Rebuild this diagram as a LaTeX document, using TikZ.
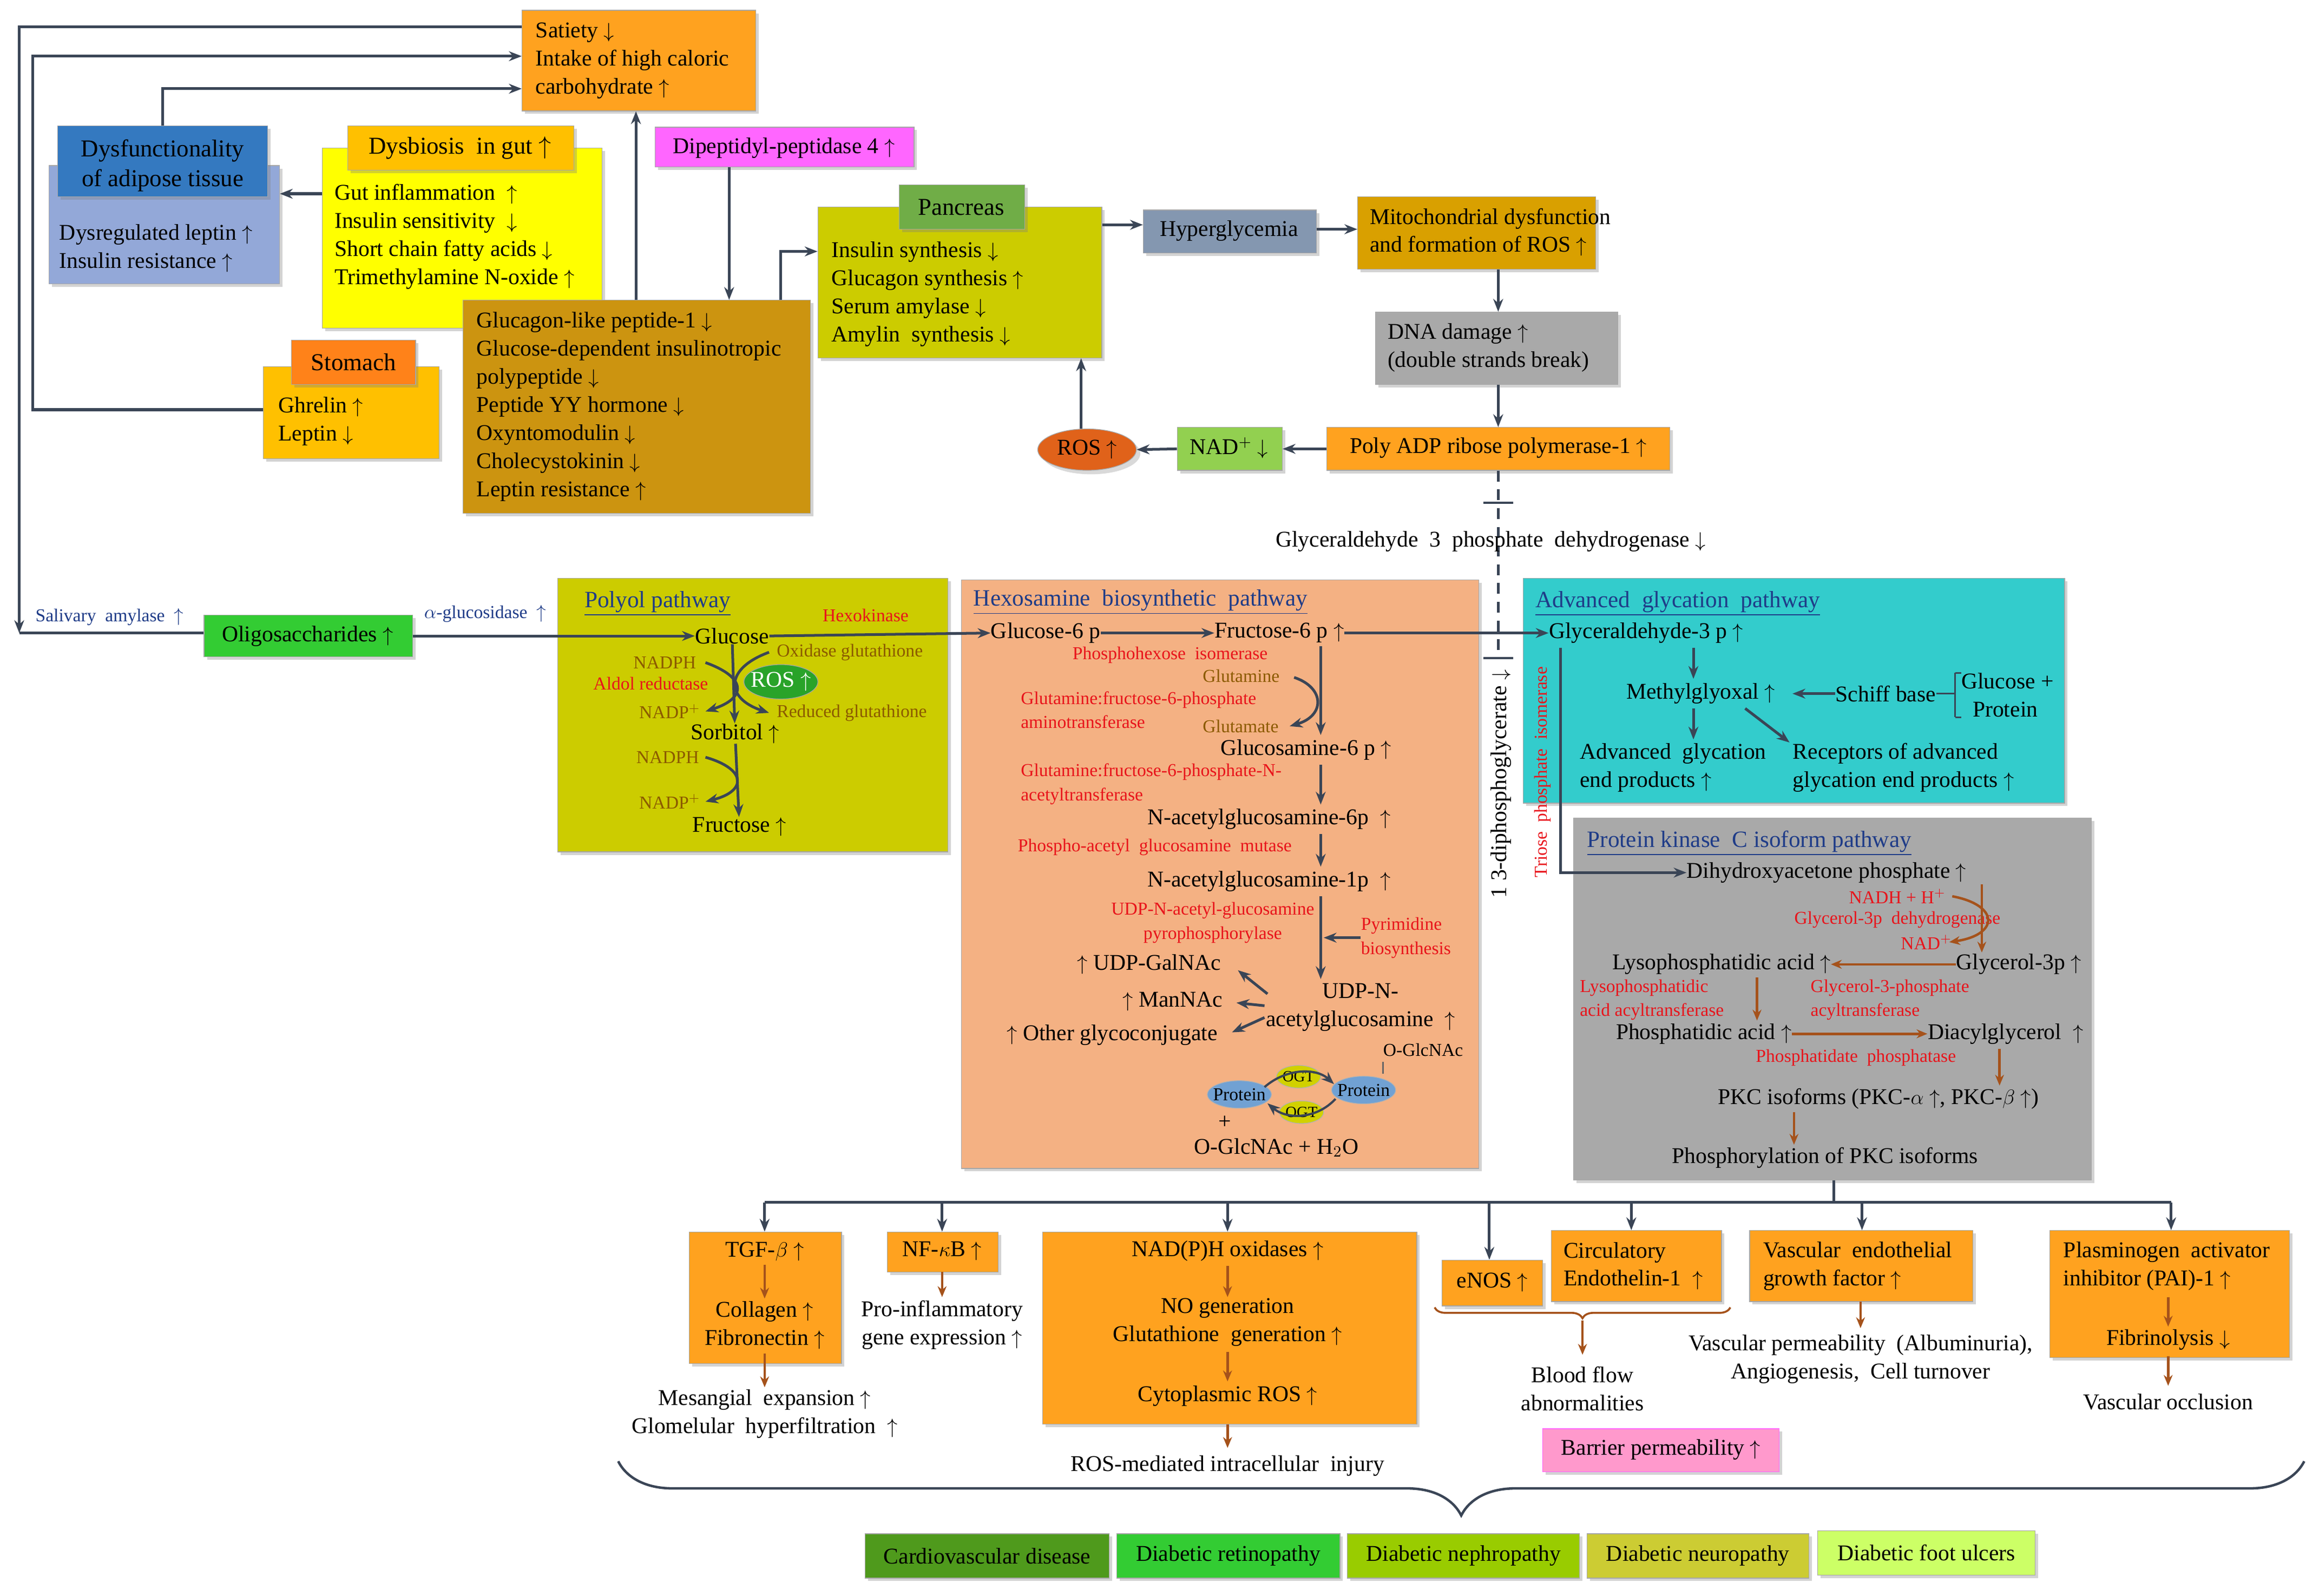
\documentclass[tikz,border=0pt]{standalone}
\usepackage{fontspec}
\setmainfont{Liberation Serif}
\usetikzlibrary{arrows.meta,fit,shapes.geometric,decorations.pathreplacing,shadows}

\definecolor{ln}{HTML}{3A4556}
\definecolor{br}{HTML}{A5521B}
\definecolor{orng}{HTML}{FFA21F}
\definecolor{orngD}{HTML}{D98200}
\definecolor{blueH}{HTML}{3479C0}
\definecolor{blueB}{HTML}{93A8D8}
\definecolor{ylw}{HTML}{FFFF00}
\definecolor{ylwH}{HTML}{FFC000}
\definecolor{gold}{HTML}{CC9410}
\definecolor{mag}{HTML}{FF66FF}
\definecolor{grnH}{HTML}{70AD47}
\definecolor{olive}{HTML}{CCCC00}
\definecolor{hyp}{HTML}{8497B0}
\definecolor{mito}{HTML}{D9A000}
\definecolor{gry}{HTML}{A9A9A9}
\definecolor{nadg}{HTML}{92D050}
\definecolor{rosc}{HTML}{E0621A}
\definecolor{olig}{HTML}{33CC33}
\definecolor{salm}{HTML}{F4B183}
\definecolor{teal}{HTML}{33CCCC}
\definecolor{pnk}{HTML}{FF99CC}
\definecolor{d1}{HTML}{4F9A1C}
\definecolor{d2}{HTML}{33CC33}
\definecolor{d3}{HTML}{99CC00}
\definecolor{d4}{HTML}{CCCC33}
\definecolor{d5}{HTML}{CCFF66}
\definecolor{ttl}{HTML}{1F3C88}
\definecolor{enz}{HTML}{E8141B}
\definecolor{sub}{HTML}{8B5A00}

\newcommand\UA{$\uparrow$}
\newcommand\DA{$\downarrow$}
\newcommand\bx[6]{\node[box,fill=#6,fit={(#2,#3)(#4,#5)}] (#1) {};}

\tikzset{
  box/.style={draw=black!35,inner sep=0pt,drop shadow={opacity=0.35,shadow xshift=0.6mm,shadow yshift=-0.6mm}},
  t/.style={anchor=west,inner sep=0pt,font=\fontsize{13}{16.2}\selectfont,align=left},
  tc/.style={inner sep=0pt,font=\fontsize{13}{16.2}\selectfont,align=center},
  rd/.style={anchor=west,inner sep=0pt,font=\fontsize{10.5}{14}\selectfont,text=enz,align=left},
  bn/.style={anchor=west,inner sep=0pt,font=\fontsize{10.5}{14}\selectfont,text=sub,align=left},
  bl/.style={inner sep=0pt,font=\fontsize{10.5}{14}\selectfont,text=ttl},
  hd/.style={anchor=west,inner sep=0pt,font=\fontsize{13.5}{16}\selectfont,text=ttl},
  ar/.style={draw=ln,line width=0.55mm,-{Stealth[length=2.6mm,width=2mm]}},
  la/.style={draw=ln,line width=0.55mm},
  ba/.style={draw=br,line width=0.5mm,-{Stealth[length=2.2mm,width=1.8mm]}},
}

\begin{document}
\begin{tikzpicture}[x=0.3mm,y=-0.3mm]
\useasboundingbox (0,0) rectangle (1568,1079);

% ---------- top part ----------
\bx{sat}{353}{7}{511}{75}{orng}
\node[t] (satT) at (362,41) {Satiety \DA\\Intake of high caloric\\carbohydrate \UA};

\bx{adB}{33}{112}{189}{192}{blueB}
\bx{adH}{39}{85}{181}{133}{blueH}
\node[tc,font=\fontsize{14}{17}\selectfont] (adHT) at (110,112) {Dysfunctionality\\of adipose tissue};
\node[t] (adT) at (40,168) {Dysregulated leptin \UA\\Insulin resistance \UA};

\bx{dyB}{218}{100}{407}{222}{ylw}
\bx{dyH}{235}{85}{388}{115}{ylwH}
\node[tc,font=\fontsize{14}{17}\selectfont] (dyHT) at (311,100) {Dysbiosis \ in gut \UA};
\node[t] (dyT) at (226,160) {Gut inflammation \ \UA\\Insulin sensitivity \ \DA\\Short chain fatty acids \DA\\Trimethylamine N-oxide \UA};

\bx{dpp}{443}{86}{618}{113}{mag}
\node[tc] (dppT) at (530,100) {Dipeptidyl-peptidase 4 \UA};

\bx{stB}{178}{248}{297}{310}{ylwH}
\bx{stH}{197}{230}{281}{260}{orng!80!red}
\node[tc,font=\fontsize{14}{17}\selectfont] (stHT) at (239,245) {Stomach};
\node[t] (stT) at (188,285) {Ghrelin \UA\\Leptin \DA};

\bx{glp}{313}{203}{548}{347}{gold}
\node[t] (glpT) at (322,275) {Glucagon-like peptide-1 \DA\\Glucose-dependent insulinotropic\\polypeptide \DA\\Peptide YY hormone \DA\\Oxyntomodulin \DA\\Cholecystokinin \DA\\Leptin resistance \UA};

\bx{paB}{553}{140}{745}{242}{olive}
\bx{paH}{608}{125}{693}{155}{grnH}
\node[tc,font=\fontsize{14}{17}\selectfont] (paHT) at (650,140) {Pancreas};
\node[t] (paT) at (562,199) {Insulin synthesis \DA\\Glucagon synthesis \UA\\Serum amylase \DA\\Amylin \ synthesis \DA};

\bx{hyp}{773}{142}{890}{171}{hyp}
\node[tc] (hypT) at (831,156) {Hyperglycemia};
\bx{mit}{918}{133}{1079}{182}{mito}
\node[t] (mitT) at (926,157) {Mitochondrial dysfunction\\and formation of ROS \UA};
\bx{dna}{930}{211}{1094}{260}{gry}
\node[t] (dnaT) at (938,235) {DNA damage \UA\\(double strands break)};
\bx{parp}{897}{289}{1129}{318}{orng}
\node[tc] (parpT) at (1013,303) {Poly ADP ribose polymerase-1 \UA};
\bx{nad}{796}{289}{867}{318}{nadg}
\node[tc] (nadT) at (831,303) {NAD$^{+}$ \DA};
\node[ellipse,draw=black!35,fill=rosc,minimum width=20mm,minimum height=8.4mm,inner sep=0pt,drop shadow={opacity=0.3}] (ros) at (735,304) {};
\node[tc] (rosT) at (735,304) {ROS \UA};

% top connectors
\draw[ar] (sat.west |- 0,18) coordinate (s1) -| (13,428) coordinate (s2);
\draw[la] (s2) -- (138,428);
\draw[ar] (stB.west |- 0,277) -| (22,38) -- (sat.west |- 0,38);
\draw[ar] (adH.north) |- (sat.west |- 0,60);
\draw[ar] (dyB.west |- 0,131) -- (adB.east |- 0,131);
\draw[ar] (glp.north -| 430,0) -- (sat.south -| 430,0);
\draw[ar] (dpp.south -| 493,0) -- (glp.north -| 493,0);
\draw[ar] (glp.north -| 528,0) |- (paB.west |- 0,170);
\draw[ar] (paB.east |- 0,152) -- (hyp.west |- 0,152);
\draw[ar] (hyp.east |- 0,155) -- (mit.west |- 0,155);
\draw[ar] (mit.south -| 1013,0) -- (dna.north -| 1013,0);
\draw[ar] (dna.south -| 1013,0) -- (parp.north -| 1013,0);
\draw[ar] (parp.west) -- (nad.east);
\draw[ar] (nad.west) -- (ros.east);
\draw[ar] (ros.north -| 731,0) -- (paB.south -| 731,0);

% dashed glycolysis line
\draw[la,dashed,dash pattern=on 2.2mm off 1.6mm] (parp.south -| 1013,0) -- (1013,445);
\draw[la,line width=0.4mm] (1003,340) -- (1023,340);
\draw[la,line width=0.4mm] (1003,445) -- (1023,445);
\node[tc] (gapdh) at (1008,366) {Glyceraldehyde \ 3 \ phosphate \ dehydrogenase \DA};
\node[tc,rotate=90] (dpg) at (1015,530) {1 3-diphosphoglycerate \DA};

% ---------- oligosaccharides ----------
\bx{olig}{138}{416}{279}{444}{olig}
\node[tc] (oligT) at (208,430) {Oligosaccharides \UA};
\node[bl] (sal) at (74,417) {Salivary \ amylase \ \UA};
\node[bl] (agl) at (328,415) {$\alpha$-glucosidase \ \UA};

% ---------- polyol ----------
\bx{pol}{377}{391}{641}{576}{olive}
\node[hd] (polT) at (395,408) {\underline{Polyol pathway}};
\node[rd] at (556,416) {Hexokinase};
\node[tc] (glc) at (495,430) {Glucose};
\node[bn] at (428,448) {NADPH};
\node[bn] at (525,441) {Oxidase glutathione};
\node[rd] at (401,462) {Aldol reductase};
\node[ellipse,draw=black!35,fill=olig!80!black,minimum width=15mm,minimum height=7mm,inner sep=0pt] (ros2) at (528,461) {};
\node[tc,text=white] at (528,461) {ROS \UA};
\node[bn] at (432,481) {NADP$^{+}$};
\node[bn] at (525,482) {Reduced glutathione};
\node[tc] (sor) at (497,496) {Sorbitol \UA};
\node[bn] at (430,512) {NADPH};
\node[bn] at (432,542) {NADP$^{+}$};
\node[tc] (fru) at (500,559) {Fructose \UA};
\draw[ar] (glc) -- (sor);
\draw[ar] (477,448) .. controls (505,458) and (505,472) .. (477,481);
\draw[ar] (520,441) .. controls (490,452) and (490,472) .. (520,482);
\draw[ar] (sor) -- (fru);
\draw[ar] (477,512) .. controls (505,520) and (505,535) .. (477,542);
\draw[ar] (olig.east) -- (glc.west);

% ---------- hexosamine ----------
\bx{hex}{650}{392}{1000}{790}{salm}
\node[hd] (hexT) at (658,407) {\underline{Hexosamine \ biosynthetic \ pathway}};
\node[tc] (g6p) at (707,428) {Glucose-6 p};
\node[tc] (f6p) at (865,428) {Fructose-6 p \UA};
\draw[ar] (glc.east) -- (g6p.west);
\draw[ar] (g6p.east) -- (f6p.west);
\node[rd] at (725,443) {Phosphohexose \ isomerase};
\node[bn] at (813,457) {Glutamine};
\node[rd] at (690,480) {Glutamine:fructose-6-phosphate\\aminotransferase};
\node[bn] at (813,491) {Glutamate};
\node[tc] (gl6) at (883,507) {Glucosamine-6 p \UA};
\node[rd] at (690,530) {Glutamine:fructose-6-phosphate-N-\\acetyltransferase};
\node[tc] (na6) at (858,554) {N-acetylglucosamine-6p \ \UA};
\node[rd] at (688,573) {Phospho-acetyl \ glucosamine \ mutase};
\node[tc] (na1) at (858,596) {N-acetylglucosamine-1p \ \UA};
\node[rd,align=center,anchor=center] at (820,624) {UDP-N-acetyl-glucosamine\\pyrophosphorylase};
\node[rd] (pyr) at (920,634) {Pyrimidine\\biosynthesis};
\node[tc] (gal) at (777,652) {\UA\ UDP-GalNAc};
\node[tc] (man) at (793,677) {\UA\ ManNAc};
\node[tc] (oth) at (752,700) {\UA\ Other glycoconjugate};
\node[tc] (udp) at (920,681) {UDP-N-\\acetylglucosamine \ \UA};
\node[bn,text=black] at (935,710) {O-GlcNAc};
\draw[ar] (893,437) -- (893,497);
\draw[ar] (875,458) .. controls (896,465) and (896,484) .. (872,491);
\draw[ar] (893,517) -- (893,544);
\draw[ar] (893,564) -- (893,586);
\draw[ar] (893,606) -- (893,662);
\draw[ar] (pyr.west) -- (895,634);
\draw[ar] (857,672) -- (837,656);
\draw[ar] (855,680) -- (836,678);
\draw[ar] (855,688) -- (833,698);
\node[ellipse,fill=blueH!70,draw=black!30,minimum width=13mm,minimum height=5.6mm,inner sep=0pt] (pr1) at (838,740) {};
\node[inner sep=0pt,font=\fontsize{10.5}{12}\selectfont] at (838,740) {Protein};
\node[ellipse,fill=blueH!70,draw=black!30,minimum width=13mm,minimum height=5.6mm,inner sep=0pt] (pr2) at (922,737) {};
\node[inner sep=0pt,font=\fontsize{10.5}{12}\selectfont] at (922,737) {Protein};
\node[ellipse,fill=olive!90!yellow,draw=black!30,minimum width=9mm,minimum height=4.6mm,inner sep=0pt] (ogt1) at (878,728) {};
\node[inner sep=0pt,font=\fontsize{9}{11}\selectfont] at (878,728) {OGT};
\node[ellipse,fill=olive!90!yellow,draw=black!30,minimum width=9mm,minimum height=4.6mm,inner sep=0pt] (ogt2) at (880,752) {};
\node[inner sep=0pt,font=\fontsize{9}{11}\selectfont] at (880,752) {OGT};
\draw[ar,line width=0.45mm] (855,735) .. controls (870,722) and (890,722) .. (902,733);
\draw[ar,line width=0.45mm] (903,743) .. controls (890,757) and (870,757) .. (857,746);
\draw[line width=0.3mm,black!60] (935,718) -- (935,726);
\node[tc] at (828,759) {+};
\node[tc] (ogl) at (863,776) {O-GlcNAc + H$_2$O};

% ---------- AGE ----------
\bx{age}{1030}{391}{1396}{543}{teal}
\node[hd] (ageT) at (1038,408) {\underline{Advanced \ glycation \ pathway}};
\node[tc] (gap) at (1113,428) {Glyceraldehyde-3 p \UA};
\draw[ar] (f6p.east) -- (gap.west);
\node[tc] (mgo) at (1150,469) {Methylglyoxal \UA};
\node[tc] (sch) at (1275,469) {Schiff base};
\node[t] (glp2) at (1326,470) {Glucose +\\\ \ Protein};
\node[t] (agep) at (1068,519) {Advanced \ glycation\\end products \UA};
\node[t] (rage) at (1212,519) {Receptors of advanced\\glycation end products \UA};
\draw[ar] (1145,438) -- (1145,459);
\draw[ar] (1145,479) -- (1145,500);
\draw[ar] (1180,479) -- (1210,502);
\draw[ar] (sch.west) -- (1212,469);
\draw[la,line width=0.35mm] (1322,455) -- (1322,485);
\draw[la,line width=0.35mm] (1322,455) -- (1326,455) (1322,485) -- (1326,485);
\draw[la,line width=0.35mm] (sch.east) -- (1322,469);

% ---------- PKC ----------
\bx{pkc}{1064}{553}{1414}{798}{gry}
\node[hd] (pkcT) at (1073,570) {\underline{Protein kinase \ C isoform pathway}};
\node[rd,rotate=90,anchor=center] (tpi) at (1043,522) {Triose \ phosphate \ isomerase};
\node[tc] (dhap) at (1235,590) {Dihydroxyacetone phosphate \UA};
\draw[ar] (1055,438) |- (dhap.west);
\node[rd] at (1250,606) {NADH + H$^{+}$};
\node[rd] at (1213,622) {Glycerol-3p \ dehydrogenase};
\node[rd] at (1285,637) {NAD$^{+}$};
\node[tc] (lpa) at (1164,652) {Lysophosphatidic acid \UA};
\node[tc] (g3p) at (1365,652) {Glycerol-3p \UA};
\node[rd] at (1068,676) {Lysophosphatidic\\acid acyltransferase};
\node[rd] at (1224,676) {Glycerol-3-phosphate\\acyltransferase};
\node[tc] (pa) at (1152,699) {Phosphatidic acid \UA};
\node[tc] (dag) at (1356,699) {Diacylglycerol \ \UA};
\node[rd] at (1187,715) {Phosphatidate \ phosphatase};
\node[tc] (pkci) at (1270,743) {PKC isoforms (PKC-$\alpha$ \UA, PKC-$\beta$ \UA)};
\node[tc] (pkcp) at (1234,783) {Phosphorylation of PKC isoforms};
\draw[ba] (1320,606) .. controls (1352,612) and (1352,632) .. (1318,637);
\draw[ba] (1340,598) -- (1340,644);
\draw[ba] (g3p.west) -- (lpa.east);
\draw[ba] (1188,661) -- (1188,690);
\draw[ba] (pa.east) -- (dag.west);
\draw[ba] (1352,709) -- (1352,734);
\draw[ba] (1213,752) -- (1213,774);

% ---------- bottom ----------
\draw[la] (pkc.south -| 1240,0) -- (1240,813);
\draw[la] (517,813) -- (1468,813);
\bx{tgf}{466}{833}{569}{922}{orng}
\bx{nfk}{600}{833}{675}{860}{orng}
\bx{nox}{705}{833}{958}{963}{orng}
\bx{enos}{975}{852}{1043}{883}{orng}
\bx{cir}{1049}{832}{1164}{880}{orng}
\bx{veg}{1183}{832}{1334}{880}{orng}
\bx{pai}{1386}{832}{1548}{918}{orng}
\foreach \n/\x in {tgf/517,nfk/637,nox/830,enos/1007,cir/1103,veg/1259,pai/1468}
  \draw[ar] (\x,813) -- (\n.north -| \x,0);

\node[tc] (tgf1) at (517,846) {TGF-$\beta$ \UA};
\node[tc] (tgf2) at (517,896) {Collagen \UA\\Fibronectin \UA};
\draw[ba] (517,855) -- (517,878);
\draw[ba] (517,915) -- (517,938);
\node[tc] (tgf3) at (517,956) {Mesangial \ expansion \UA\\Glomelular \ hyperfiltration \ \UA};

\node[tc] (nfkT) at (637,846) {NF-$\kappa$B \UA};
\draw[ba] (637,860) -- (637,877);
\node[tc] (nfk2) at (637,896) {Pro-inflammatory\\gene expression \UA};

\node[tc] (nox1) at (830,846) {NAD(P)H oxidases \UA};
\node[tc] (nox2) at (830,894) {NO generation\\Glutathione \ generation \UA};
\node[tc] (nox3) at (830,944) {Cytoplasmic ROS \UA};
\draw[ba] (830,856) -- (830,877);
\draw[ba] (830,914) -- (830,934);
\draw[ba] (830,963) -- (830,979);
\node[tc] (nox4) at (830,991) {ROS-mediated intracellular \ injury};

\node[tc] (enT) at (1009,867) {eNOS \UA};
\node[t] (cirT) at (1057,856) {Circulatory\\Endothelin-1 \ \UA};
\draw[br,line width=0.4mm,decorate,decoration={brace,mirror,amplitude=2.2mm}] (970,884) -- (1170,884);
\draw[ba] (1070,893) -- (1070,916);
\node[tc] (bfa) at (1070,939) {Blood flow\\abnormalities};
\node[box,fill=pnk,draw=mag,fit={(1043,966)(1203,995)}] (bar) {};
\node[tc] (barT) at (1123,980) {Barrier permeability \UA};

\node[t] (vegT) at (1192,856) {Vascular \ endothelial\\growth factor \UA};
\draw[ba] (1258,880) -- (1258,898);
\node[tc] (veg2) at (1258,919) {Vascular permeability \ (Albuminuria),\\Angiogenesis, \ Cell turnover};

\node[t] (paiT) at (1395,856) {Plasminogen \ activator\\inhibitor (PAI)-1 \UA};
\draw[ba] (1466,877) -- (1466,897);
\node[tc] (pai2) at (1466,906) {Fibrinolysis \DA};
\draw[ba] (1466,917) -- (1466,937);
\node[tc] (pai3) at (1466,948) {Vascular occlusion};

\draw[ln,line width=0.5mm,decorate,decoration={brace,mirror,amplitude=11mm}] (418,988) -- (1558,988);

\bx{c1}{585}{1037}{750}{1067}{d1}
\bx{c2}{755}{1037}{906}{1067}{d2}
\bx{c3}{911}{1037}{1068}{1067}{d3}
\bx{c4}{1073}{1037}{1223}{1067}{d4}
\bx{c5}{1229}{1035}{1376}{1065}{d5}
\node[tc] at (c1) {Cardiovascular disease};
\node[tc] at (c2) {Diabetic retinopathy};
\node[tc] at (c3) {Diabetic nephropathy};
\node[tc] at (c4) {Diabetic neuropathy};
\node[tc] at (c5) {Diabetic foot ulcers};
\end{tikzpicture}
\end{document}
